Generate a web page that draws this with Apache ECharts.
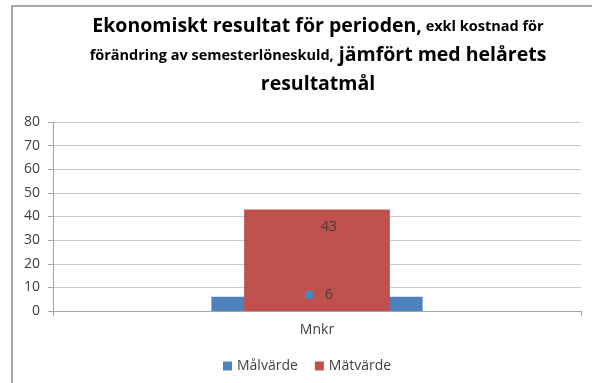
<!DOCTYPE html>
<html>
<head>
<meta charset="utf-8">
<script src="https://cdn.jsdelivr.net/npm/echarts@6/dist/echarts.min.js"></script>
<style>
  html, body { margin: 0; padding: 0; background: #fff; }
  #chart { width: 592px; height: 383px; }
</style>
</head>
<body>
<div id="chart"></div>
<script>
// Chart data
const categories = ['Mnkr'];
const seriesNames = ['Målvärde', 'Mätvärde'];
const malvarde = [6];
const matvarde = [43];
const yTicks = [0, 10, 20, 30, 40, 50, 60, 70, 80];

const FONT = '"Open Sans", Lato, sans-serif';
const BLUE = '#4f81bd';
const RED = '#c0504d';
const TEXT = '#404040';

const chart = echarts.init(document.getElementById('chart'));

const xAxisBase = {
  type: 'category',
  data: categories,
  axisLine: { lineStyle: { color: '#a6a6a6' } },
  axisTick: { show: true, alignWithLabel: false, length: 5, lineStyle: { color: '#a6a6a6' } },
  axisLabel: { color: TEXT, fontFamily: FONT, fontSize: 14, margin: 12 }
};

chart.setOption({
  animation: false,
  backgroundColor: '#fff',
  title: {
    left: 313,
    top: 7,
    textAlign: 'center',
    text: '{b|Ekonomiskt resultat för perioden,}{s| exkl kostnad för}\n' +
          '{s|förändring av semesterlöneskuld,}{b| jämfört med helårets}\n' +
          '{b|resultatmål}',
    textStyle: {
      rich: {
        b: { fontFamily: FONT, fontWeight: 'bold', fontSize: 19.5, color: '#000', lineHeight: 29 },
        s: { fontFamily: FONT, fontWeight: 'bold', fontSize: 14.5, color: '#000', lineHeight: 29 }
      }
    }
  },
  legend: {
    bottom: 5,
    left: 218,
    itemWidth: 9,
    itemHeight: 9,
    itemGap: 17,
    icon: 'rect',
    textStyle: { color: TEXT, fontFamily: FONT, fontSize: 14 },
    data: seriesNames
  },
  grid: { left: 53, right: 11, top: 122, bottom: 72 },
  xAxis: [
    xAxisBase,
    Object.assign({}, xAxisBase, { show: false })
  ],
  yAxis: {
    type: 'value',
    min: yTicks[0],
    max: yTicks[yTicks.length - 1],
    interval: 10,
    axisLine: { show: true, lineStyle: { color: '#a6a6a6' } },
    axisTick: { show: true, length: 5, lineStyle: { color: '#a6a6a6' } },
    axisLabel: { color: TEXT, fontFamily: FONT, fontSize: 14, margin: 13 },
    splitLine: { lineStyle: { color: '#c8c8c8' } }
  },
  series: [
    {
      name: seriesNames[0],
      type: 'bar',
      xAxisIndex: 0,
      data: malvarde,
      barWidth: '40%',
      itemStyle: { color: BLUE },
      z: 2
    },
    {
      name: seriesNames[1],
      type: 'bar',
      xAxisIndex: 1,
      data: matvarde,
      barWidth: '27.6%',
      itemStyle: { color: RED },
      z: 3,
      label: {
        show: true,
        position: 'insideTop',
        distance: 11,
        offset: [12, 0],
        color: TEXT,
        fontFamily: FONT,
        fontSize: 14
      }
    },
    {
      // value label for Målvärde, drawn above the red bar
      name: seriesNames[0] + ' etikett',
      type: 'bar',
      xAxisIndex: 0,
      data: malvarde,
      barWidth: '40%',
      barGap: '-100%',
      itemStyle: { color: 'rgba(0,0,0,0)' },
      z: 4,
      silent: true,
      label: {
        show: true,
        position: 'top',
        distance: -5,
        offset: [2, 0],
        formatter: (p) => '{sq|}{v|' + p.value + '}',
        rich: {
          sq: { backgroundColor: BLUE, width: 8, height: 8 },
          v: { color: TEXT, fontFamily: FONT, fontSize: 14, padding: [0, 0, 0, 12] }
        }
      }
    }
  ],
  graphic: [
    {
      type: 'rect',
      shape: { x: 12, y: 6, width: 620, height: 420 },
      style: { fill: 'none', stroke: '#8c8c8c', lineWidth: 1.5 },
      silent: true
    }
  ]
});
</script>
</body>
</html>
